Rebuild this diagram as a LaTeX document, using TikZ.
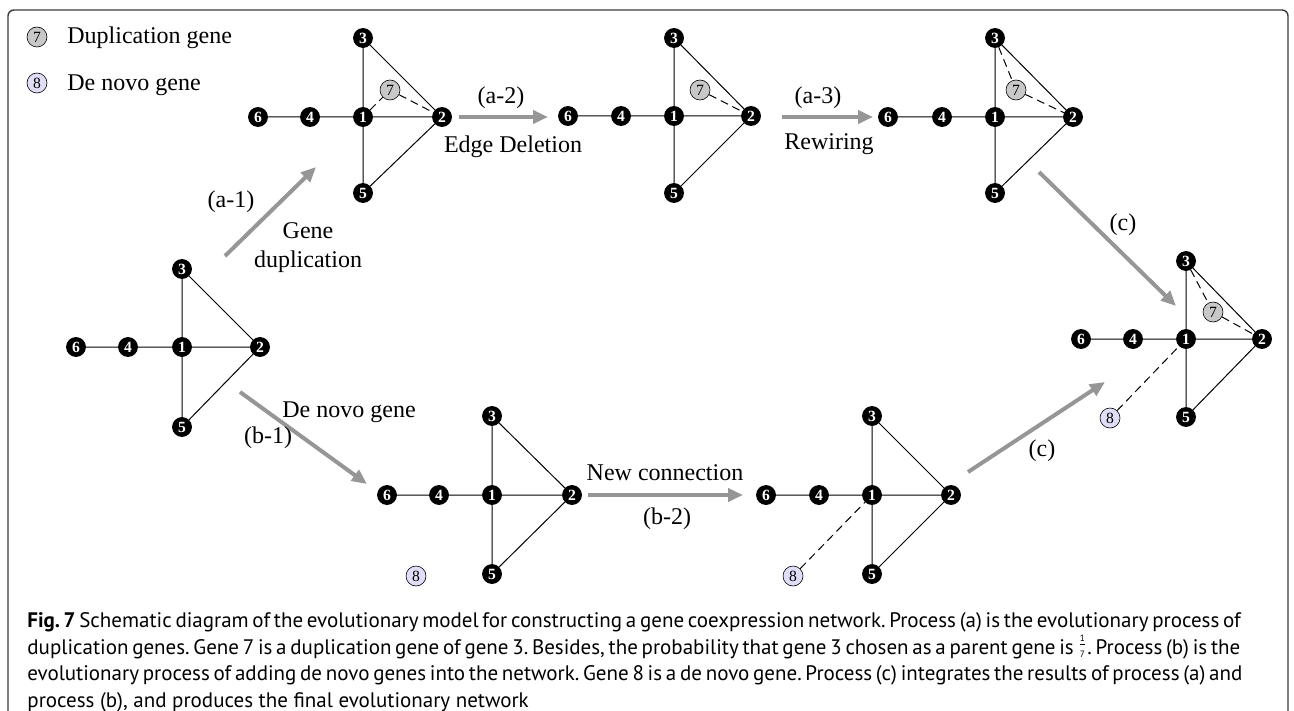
\documentclass[tikz,border=0pt]{standalone}
\usepackage{fontspec}
\setmainfont{Liberation Serif}
\newfontfamily\capfont{PT Sans}
\usetikzlibrary{arrows.meta}
\definecolor{arrowgray}{RGB}{150,150,150}
\definecolor{dupgray}{RGB}{200,200,200}
\definecolor{novopurple}{RGB}{224,222,246}
\definecolor{framec}{RGB}{60,60,60}
\tikzset{
  bn/.style={circle, fill=black, draw=black, inner sep=0pt, minimum size=9.5pt,
    text=white, font=\fontsize{7.8}{7.8}\selectfont\bfseries},
  dupn/.style={circle, fill=dupgray, draw=black, line width=0.3pt, inner sep=0pt,
    minimum size=10pt, font=\fontsize{7.8}{7.8}\selectfont},
  novn/.style={dupn, fill=novopurple},
  edge/.style={line width=0.5pt, draw=black},
  dedge/.style={edge, dash pattern=on 4pt off 2.5pt},
  garrow/.style={draw=arrowgray, line width=2pt, -{Triangle[length=7.5pt,width=6.5pt]}},
  lbl/.style={font=\fontsize{12}{14}\selectfont, inner sep=0pt, anchor=base},
  capline/.style={font=\capfont\fontsize{10.5}{13.35}\selectfont\frenchspacing, inner sep=0pt, anchor=base west}
}
\newcommand\mkgraph[8]{%
  \node[bn] (#1-6) at (#2,#6) {6};
  \node[bn] (#1-4) at (#3,#6) {4};
  \node[bn] (#1-1) at (#4,#6) {1};
  \node[bn] (#1-2) at (#5,#6) {2};
  \node[bn] (#1-3) at (#4,#7) {3};
  \node[bn] (#1-5) at (#4,#8) {5};
  \draw[edge] (#1-6)--(#1-4) (#1-4)--(#1-1) (#1-1)--(#1-2) (#1-1)--(#1-3)
              (#1-1)--(#1-5) (#1-3)--(#1-2) (#1-5)--(#1-2);
}
\newcommand\capfrac{\smash{\raisebox{0.35ex}{\ensuremath{\frac{\mbox{\capfont\fontsize{4.6}{4.6}\selectfont 1}}{\mbox{\capfont\fontsize{4.6}{4.6}\selectfont 7}}}}}}
\begin{document}
\begin{tikzpicture}[x=0.5pt,y=-0.5pt]
\useasboundingbox (0,0) rectangle (1294,711);
% frame
\draw[framec, line width=0.7pt, rounded corners=3pt] (8,711) -- (8,10) -- (1288,10) -- (1288,711);
% legend
\node[dupn] (leg7) at (37,37) {7};
\node[novn] (leg8) at (37,83) {8};
\node[lbl, anchor=base west] (legt7) at (67,44) {Duplication gene};
\node[lbl, anchor=base west] (legt8) at (67,91) {De novo gene};
% graphs
\mkgraph{A}{76}{128}{182}{260}{347}{269}{427}
\mkgraph{B}{258}{310}{363}{442}{117}{38}{193}
\mkgraph{C}{568}{621}{674}{751}{116}{38}{193}
\mkgraph{D}{888}{942}{995}{1073}{117}{38}{193}
\mkgraph{E}{387}{439}{492}{572}{495}{416}{574}
\mkgraph{F}{766}{819}{872}{951}{495}{416}{574}
\mkgraph{G}{1081}{1133}{1186}{1262}{339}{261}{417}
% extra nodes
\node[dupn] (B-7) at (390,90) {7};
\draw[dedge] (B-1) -- (B-7) (B-7) -- (B-2);
\node[dupn] (C-7) at (700,90) {7};
\draw[dedge] (C-7) -- (C-2);
\node[dupn] (D-7) at (1016,90) {7};
\draw[dedge] (D-3) -- (D-7) (D-7) -- (D-2);
\node[novn] (E-8) at (416,576) {8};
\node[novn] (F-8) at (793,576) {8};
\draw[dedge] (F-8) -- (F-1);
\node[dupn] (G-7) at (1213,312) {7};
\node[novn] (G-8) at (1110,418) {8};
\draw[dedge] (G-3) -- (G-7) (G-7) -- (G-2) (G-8) -- (G-1);
% arrow end points
\coordinate (a1s) at (225,256); \coordinate (a1e) at (316,167);
\coordinate (a2s) at (459,117); \coordinate (a2e) at (548,117);
\coordinate (a3s) at (782,117); \coordinate (a3e) at (873,117);
\coordinate (b1s) at (240,392); \coordinate (b1e) at (367,484);
\coordinate (b2s) at (588,495); \coordinate (b2e) at (743,495);
\coordinate (c1s) at (1039,172); \coordinate (c1e) at (1176,306);
\coordinate (c2s) at (968,472); \coordinate (c2e) at (1105,382);
\draw[garrow] (a1s) -- (a1e);
\draw[garrow] (a2s) -- (a2e);
\draw[garrow] (a3s) -- (a3e);
\draw[garrow] (b1s) -- (b1e);
\draw[garrow] (b2s) -- (b2e);
\draw[garrow] (c1s) -- (c1e);
\draw[garrow] (c2s) -- (c2e);
% labels
\node[lbl] (la1) at (231,208) {(a-1)};
\node[lbl] (lgene) at (308,238) {Gene};
\node[lbl] (ldup) at (308,267) {duplication};
\node[lbl] (la2) at (501,104) {(a-2)};
\node[lbl] (ledge) at (513,153) {Edge Deletion};
\node[lbl] (la3) at (818,104) {(a-3)};
\node[lbl] (lrew) at (829,150) {Rewiring};
\node[lbl] (ldenovo) at (349,417) {De novo gene};
\node[lbl] (lb1) at (268,443) {(b-1)};
\node[lbl] (lnew) at (665,480) {New connection};
\node[lbl] (lb2) at (667,524) {(b-2)};
\node[lbl] (lc1) at (1123,230) {(c)};
\node[lbl] (lc2) at (1042,456) {(c)};
% caption
\node[capline] (cap1) at (27,627) {\makebox[594pt][s]{\textbf{Fig. 7} Schematic diagram of the evolutionary model for constructing a gene coexpression network. Process (a) is the evolutionary process of}};
\node[capline] (cap2) at (27,654) {\makebox[595.5pt][s]{duplication genes. Gene 7 is a duplication gene of gene 3. Besides, the probability that gene 3 chosen as a parent gene is \capfrac. Process (b) is the}};
\node[capline] (cap3) at (27,680) {\makebox[598pt][s]{evolutionary process of adding de novo genes into the network. Gene 8 is a de novo gene. Process (c) integrates the results of process (a) and}};
\node[capline] (cap4) at (27,707) {process (b), and produces the final evolutionary network};
\end{tikzpicture}
\end{document}
